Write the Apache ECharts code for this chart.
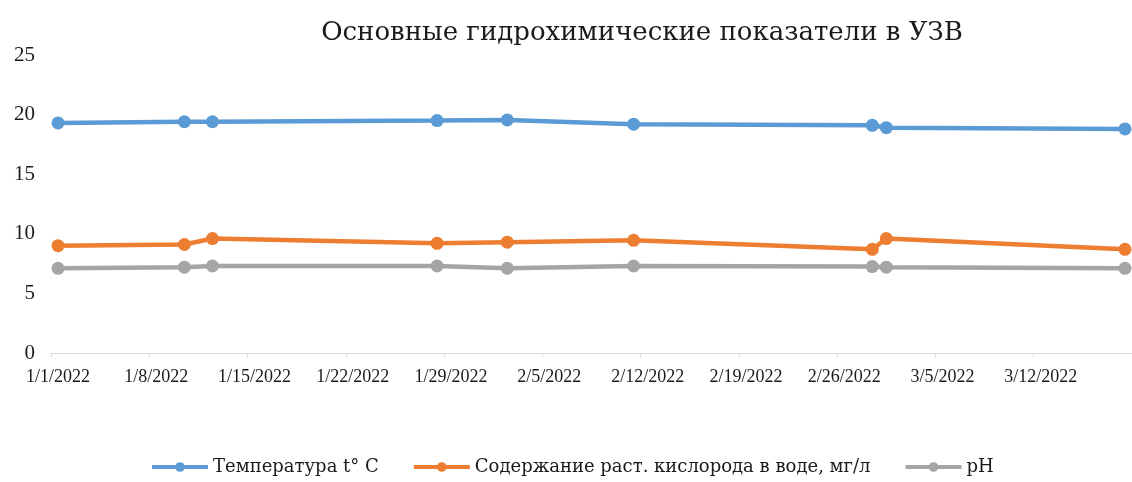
<!DOCTYPE html>
<html>
<head>
<meta charset="utf-8">
<script src="https://cdn.jsdelivr.net/npm/echarts@6/dist/echarts.min.js"></script>
<style>
  html, body { margin: 0; padding: 0; background: #fff; }
  #chart { width: 1132px; height: 482px; }
</style>
</head>
<body>
<div id="chart"></div>
<script>
// Sampling dates and measured parameters of the recirculating system
const sampleDates = ['2022-01-01', '2022-01-10', '2022-01-12', '2022-01-28', '2022-02-02',
                     '2022-02-11', '2022-02-28', '2022-03-01', '2022-03-18'];
const temperature = [19.3, 19.4, 19.4, 19.5, 19.55, 19.2, 19.1, 18.9, 18.8];
const oxygen      = [9.0, 9.1, 9.6, 9.2, 9.3, 9.45, 8.7, 9.6, 8.7];
const ph          = [7.1, 7.2, 7.3, 7.3, 7.1, 7.3, 7.25, 7.2, 7.1];
const seriesNames = ['Температура t° C', 'Содержание раст. кислорода в воде, мг/л', 'pH'];
const titleText = 'Основные гидрохимические показатели в УЗВ';
const startDate = '2022-01-01';
const endDay = 77;       // axis runs to 3/19/2022
const yTicks = [0, 5, 10, 15, 20, 25];

const DAY = 86400000;
const t0 = Date.parse(startDate + 'T00:00:00Z');
// Each sample sits in the middle of its day on the date axis
const dayPos = sampleDates.map(d => (Date.parse(d + 'T00:00:00Z') - t0) / DAY + 0.5);
const pairs = vals => vals.map((v, i) => [dayPos[i], v]);

function dayLabel(v) {
  const d = new Date(t0 + v * DAY);
  return (d.getUTCMonth() + 1) + '/' + d.getUTCDate() + '/' + d.getUTCFullYear();
}

const serif = '"Liberation Serif", "DejaVu Serif", serif';
const wideSerif = '"DejaVu Serif", "Liberation Serif", serif';
const colors = ['#5B9BD5', '#ED7D31', '#A5A5A5'];

const chart = echarts.init(document.getElementById('chart'), null, { renderer: 'canvas' });

function lineSeries(name, vals, color) {
  return {
    name: name,
    type: 'line',
    data: pairs(vals),
    symbol: 'circle',
    symbolSize: 13,
    lineStyle: { width: 4.5, color: color },
    itemStyle: { color: color },
    emphasis: { disabled: true },
    animation: false,
    clip: false
  };
}

chart.setOption({
  animation: false,
  color: colors,
  title: {
    text: titleText,
    left: 637,
    textAlign: 'center',
    top: 15,
    textStyle: { fontFamily: wideSerif, fontSize: 26, fontWeight: 'normal', color: '#1a1a1a' }
  },
  legend: {
    bottom: 1,
    left: 145,
    itemWidth: 56,
    itemHeight: 12,
    itemGap: 33,
    lineStyle: { width: 4 },
    data: seriesNames,
    textStyle: { fontFamily: wideSerif, fontSize: 18, color: '#1a1a1a' }
  },
  grid: { left: 51, top: 55, width: 1085, height: 298, containLabel: false },
  xAxis: {
    type: 'value',
    min: 0,
    max: endDay,
    interval: 7,
    axisLine: { show: true, lineStyle: { color: '#d9d9d9', width: 1 } },
    axisTick: { show: true, length: 4, lineStyle: { color: '#d9d9d9' } },
    splitLine: { show: false },
    axisLabel: {
      formatter: dayLabel,
      showMaxLabel: false,
      margin: 15,
      padding: [0, 0, 0, 14],
      fontFamily: serif,
      fontSize: 18,
      color: '#1a1a1a'
    }
  },
  yAxis: {
    type: 'value',
    min: yTicks[0],
    max: yTicks[yTicks.length - 1],
    interval: yTicks[1] - yTicks[0],
    axisLine: { show: false },
    axisTick: { show: false },
    splitLine: { show: false },
    axisLabel: { margin: 16, fontFamily: serif, fontSize: 21, color: '#1a1a1a' }
  },
  series: [
    lineSeries(seriesNames[0], temperature, colors[0]),
    lineSeries(seriesNames[1], oxygen, colors[1]),
    lineSeries(seriesNames[2], ph, colors[2])
  ]
});
</script>
</body>
</html>
